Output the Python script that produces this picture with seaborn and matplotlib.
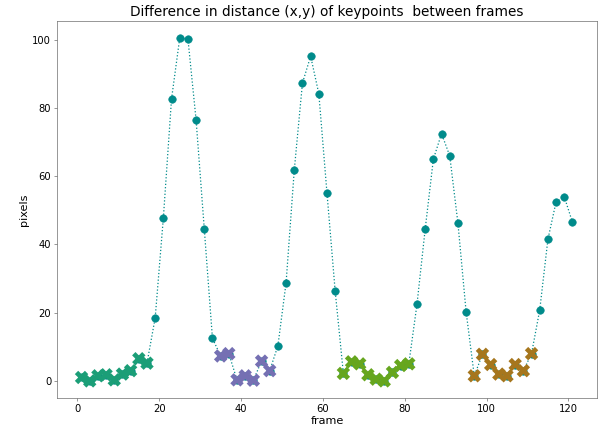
import numpy as np
import pandas as pd
import matplotlib
matplotlib.use("Agg")
import matplotlib.pyplot as plt
import seaborn as sns

frames = list(range(1, 122, 2))
pixels = [1.0, 0.0, 1.5, 1.8, 0.3, 2.0, 3.0, 6.5, 5.2,
          18.5, 47.8, 82.7, 100.5, 100.3, 76.5, 44.6, 12.5,
          7.3, 8.0, 0.3, 1.5, 0.2, 5.8, 3.0,
          10.3, 28.8, 61.8, 87.3, 95.2, 84.2, 55.0, 26.3,
          2.2, 5.6, 5.0, 1.8, 0.5, 0.0, 2.5, 4.5, 5.0,
          22.5, 44.5, 65.0, 72.5, 66.0, 46.3, 20.3,
          1.5, 7.8, 4.8, 2.0, 1.5, 4.8, 3.0, 8.0,
          20.8, 41.5, 52.5, 54.0, 46.5]

# still segments (frame ranges) and their colours
seg_names = ["s1", "s2", "s3", "s4"]
seg_start = [1, 35, 65, 97]
seg_end = [17, 47, 81, 111]
seg_colors = ["#1b9e77", "#7570b3", "#66a61e", "#a6761d"]

df = pd.DataFrame({"frame": frames, "pixels": pixels})
seg = []
for f in frames:
    lab = None
    for n, a, b in zip(seg_names, seg_start, seg_end):
        if a <= f <= b:
            lab = n
    seg.append(lab)
df["segment"] = seg
still = df.dropna(subset=["segment"])

plt.rcParams["font.size"] = 12
fig, ax = plt.subplots(figsize=(10, 428 / 60), dpi=60)
fig.subplots_adjust(left=0.095, right=0.995, top=0.951, bottom=0.07)

sns.lineplot(data=df, x="frame", y="pixels", ax=ax, color="darkcyan",
             linestyle=":", linewidth=1.5, marker="o", markersize=9,
             markeredgecolor="darkcyan")
sns.scatterplot(data=still, x="frame", y="pixels", hue="segment",
                palette=dict(zip(seg_names, seg_colors)), marker="X",
                s=260, linewidth=0, ax=ax, legend=False, zorder=3)

ax.set_title("Difference in distance (x,y) of keypoints  between frames",
             fontsize=16.3)
ax.set_xlabel("frame", fontsize=13.5, labelpad=2)
ax.set_ylabel("pixels", fontsize=13.5)
for sp in ax.spines.values():
    sp.set_color("#666666")
ax.tick_params(color="#666666")
ax.margins(0.05)

fig.savefig("out.png", dpi=60)
